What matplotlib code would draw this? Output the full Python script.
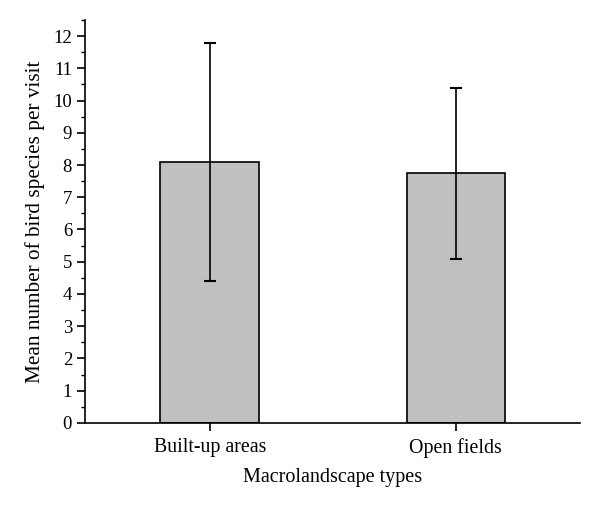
import matplotlib
matplotlib.use('Agg')
import matplotlib.pyplot as plt
from matplotlib.ticker import MultipleLocator

categories = ["Built-up areas", "Open fields"]
means = [8.1, 7.75]
errors = [3.7, 2.65]


def main():
    plt.rcParams['font.family'] = ['Liberation Serif', 'DejaVu Serif']

    fig = plt.figure(figsize=(6, 5.12), dpi=100)
    ax = fig.add_axes([0.142, 0.174, 0.825, 0.787])

    x = list(range(len(categories)))
    ax.bar(x, means, width=0.4, color='#c0c0c0', edgecolor='black', linewidth=1.2, zorder=2)
    ax.errorbar(x, means, yerr=errors, fmt='none', ecolor='black', elinewidth=1.2,
                capsize=4, capthick=1.5, zorder=3)

    ax.set_xlim(-0.506, 1.506)
    ax.set_ylim(0, 12.5)
    ax.set_xticks(x)
    ax.set_xticklabels(categories, fontsize=14.3)
    ax.yaxis.set_major_locator(MultipleLocator(1))
    ax.yaxis.set_minor_locator(MultipleLocator(0.5))
    ax.tick_params(axis='y', which='major', direction='out', length=6, width=1.2, labelsize=13.5)
    ax.tick_params(axis='y', which='minor', direction='out', length=3, width=1.0)
    ax.tick_params(axis='x', direction='out', length=6, width=1.2, pad=5)

    for side in ['top', 'right']:
        ax.spines[side].set_visible(False)
    for side in ['left', 'bottom']:
        ax.spines[side].set_linewidth(1.2)

    ax.set_xlabel('Macrolandscape types', fontsize=14.5, labelpad=7)
    ax.set_ylabel('Mean number of bird species per visit', fontsize=15.3, labelpad=6)

    fig.savefig('out.png', dpi=100)


if __name__ == "__main__":
    main()
